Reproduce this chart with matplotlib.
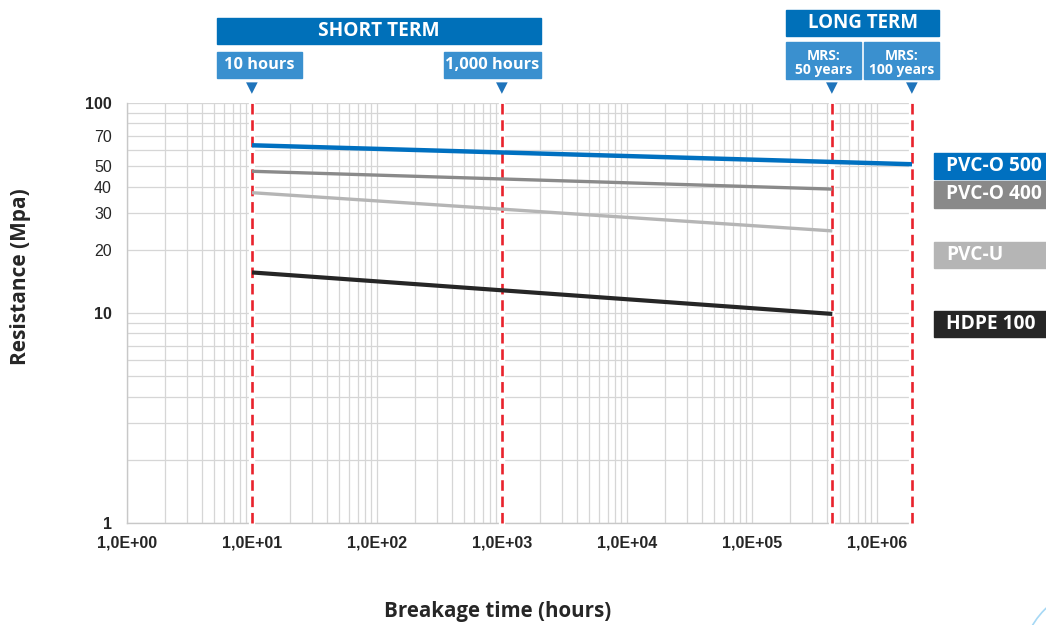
import matplotlib
matplotlib.use("Agg")
import matplotlib.pyplot as plt
from matplotlib.patches import Rectangle, Circle
from matplotlib.ticker import FixedLocator, FixedFormatter, LogLocator, NullFormatter
import matplotlib.transforms as mtransforms

# ---- data ----
series = ["PVC-O 500", "PVC-O 400", "PVC-U", "HDPE 100"]
t_start = [10, 10, 10, 10]
t_end = [1.9e6, 4.38e5, 4.38e5, 4.38e5]
mpa_start = [62.9, 47.3, 37.4, 15.6]
mpa_end = [51.1, 38.9, 24.6, 9.9]
line_colors = ["#0070c0", "#8a8a8a", "#b5b5b5", "#262626"]
line_widths = [3.2, 2.4, 2.4, 3.0]

marker_hours = [10, 1000, 4.38e5, 1.9e6]   # 10 h, 1,000 h, MRS 50 y, MRS 100 y

xticks = [1, 10, 100, 1e3, 1e4, 1e5, 1e6]
xtick_labels = ["1,0E+00", "1,0E+01", "1,0E+02", "1,0E+03", "1,0E+04", "1,0E+05", "1,0E+06"]
yticks = [1, 10, 20, 30, 40, 50, 70, 100]
ytick_labels = ["1", "10", "20", "30", "40", "50", "70", "100"]
bold_yticks = ["1", "10", "100"]

W, H = 1046, 625
fig = plt.figure(figsize=(W / 100, H / 100), dpi=100)

# plot area in pixel coords (left, top, right, bottom)
L, T, R, B = 127, 103, 912, 523
ax = fig.add_axes([L / W, (H - B) / H, (R - L) / W, (B - T) / H])
ax.set_xscale("log")
ax.set_yscale("log")
ax.set_xlim(1, 1.9e6)
ax.set_ylim(1, 100)

grid_c = "#d6d6d6"
ax.xaxis.set_major_locator(FixedLocator(xticks))
ax.xaxis.set_major_formatter(FixedFormatter(xtick_labels))
ax.xaxis.set_minor_locator(LogLocator(base=10, subs=range(2, 10), numticks=20))
ax.xaxis.set_minor_formatter(NullFormatter())
ax.yaxis.set_major_locator(FixedLocator(yticks))
ax.yaxis.set_major_formatter(FixedFormatter(ytick_labels))
ax.yaxis.set_minor_locator(LogLocator(base=10, subs=range(2, 10), numticks=20))
ax.yaxis.set_minor_formatter(NullFormatter())
ax.grid(True, which="both", color=grid_c, linewidth=0.9)
ax.set_axisbelow(True)
ax.tick_params(which="both", length=0)
ax.tick_params(axis="x", pad=9)
ax.tick_params(axis="y", pad=11)
for side in ["top", "right"]:
    ax.spines[side].set_visible(False)
for side in ["left", "bottom"]:
    ax.spines[side].set_color("#c8c8c8")
    ax.spines[side].set_linewidth(1.0)

for lab in ax.get_xticklabels():
    lab.set_fontfamily("Liberation Sans")
    lab.set_fontweight("bold")
    lab.set_fontsize(11.5)
    lab.set_color("#262626")
for lab in ax.get_yticklabels():
    lab.set_fontfamily("Liberation Sans")
    lab.set_fontsize(11.5)
    lab.set_color("#262626")
    if lab.get_text() in bold_yticks:
        lab.set_fontweight("bold")

# red dashed marker lines with white halo
for h in marker_hours:
    ax.axvline(h, color="white", lw=4.5, zorder=3, clip_on=False)
    ax.axvline(h, color="#e8222c", lw=1.9, ls=(0, (4, 2.2)), zorder=4, clip_on=False)

# series lines
for name, x0, x1, y0, y1, c, w in zip(series, t_start, t_end, mpa_start, mpa_end,
                                      line_colors, line_widths):
    ax.plot([x0, x1], [y0, y1], color=c, lw=w, solid_capstyle="butt", zorder=5,
            clip_on=False)

# little triangles above the plot at the marker times
trans = mtransforms.blended_transform_factory(ax.transData, ax.transAxes)
for h in marker_hours:
    ax.text(h, 1.036, "\u25BC", transform=trans, ha="center", va="center",
            color="#1f74bb", fontsize=11, family="DejaVu Sans", clip_on=False)


def px_box(x0, y0, x1, y1, color, text="", size=11, ha="center", tx=None, dy=0):
    fig.patches.append(Rectangle((x0 / W, 1 - y1 / H), (x1 - x0) / W, (y1 - y0) / H,
                                 transform=fig.transFigure, color=color, zorder=1))
    if text:
        xt = (x0 + x1) / 2 if tx is None else tx
        fig.text(xt / W, 1 - ((y0 + y1) / 2 + dy) / H, text, ha=ha, va="center",
                 color="white", fontsize=size, fontweight="bold", family="Open Sans",
                 linespacing=0.95)


dark_blue = "#0070b9"
light_blue = "#3a90cf"
px_box(217, 18, 541, 44, dark_blue, "SHORT TERM", 13.8)
px_box(217, 52, 302, 78, light_blue, "10 hours", 11.8)
px_box(444, 52, 541, 78, light_blue, "1,000 hours", 11.8)
px_box(786, 10, 939, 36, dark_blue, "LONG TERM", 13.5)
px_box(786, 42, 861, 79, light_blue, "MRS:\n50 years", 10, dy=2.5)
px_box(864, 42, 939, 79, light_blue, "MRS:\n100 years", 10, dy=2.5)

# series labels on the right
label_boxes = [(153, 179), (181, 208), (242, 268), (311, 337)]
for name, c, (y0, y1) in zip(series, ["#0070c0", "#898989", "#b5b5b5", "#262626"], label_boxes):
    px_box(934, y0, W, y1, c, name, 13.8, ha="left", tx=946)

fig.text(21 / W, 1 - 277 / H, "Resistance (Mpa)", rotation=90, ha="center", va="center",
         fontsize=15, fontweight="bold", family="Open Sans", color="#262626")
fig.text(498 / W, 1 - 612 / H, "Breakage time (hours)", ha="center", va="center",
         fontsize=14.8, fontweight="bold", family="Open Sans", color="#262626")

# decorative arc bottom-right (inches, so it stays round)
fig.patches.append(Circle((11.00, -0.40), 0.783, transform=fig.dpi_scale_trans,
                          fill=False, edgecolor="#a6d8f5", lw=1.2))

fig.savefig("out.png", dpi=100)
